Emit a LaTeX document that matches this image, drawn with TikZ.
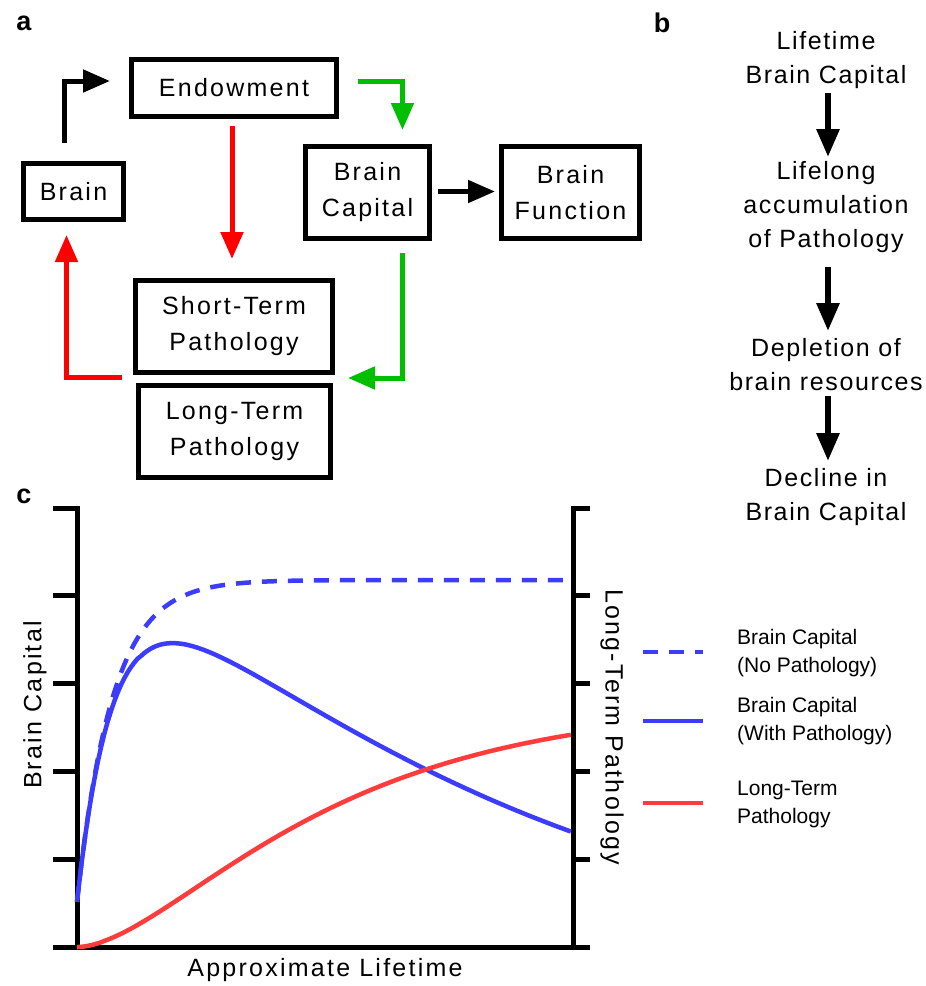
\documentclass[tikz,border=0pt]{standalone}
\usepackage{fontspec}
\setmainfont{Liberation Sans}
\newfontfamily\trackfont{Liberation Sans}[LetterSpace=9]
\newfontfamily\flowfont{Liberation Sans}[LetterSpace=6.5]
\usetikzlibrary{arrows.meta,calc}
\definecolor{arrred}{RGB}{255,0,0}
\definecolor{arrgreen}{RGB}{0,190,0}
\definecolor{plotblue}{RGB}{60,60,255}
\definecolor{plotred}{RGB}{255,60,60}
\tikzset{
  box/.style={draw, line width=5pt, align=center, inner sep=0pt, font=\trackfont\fontsize{25}{36}\selectfont},
  conn/.style={line width=5pt, -{Triangle[length=27pt,width=22pt]}},
  flow/.style={line width=6pt, -{Triangle[length=28pt,width=22pt]}},
  ptext/.style={align=center, inner sep=0pt, font=\flowfont\fontsize{25}{34}\selectfont},
  legtext/.style={align=left, anchor=west, inner sep=0pt, font=\fontsize{21}{28}\selectfont},
  axislab/.style={inner sep=0pt, font=\trackfont\fontsize{25}{30}\selectfont},
  axisline/.style={line width=5pt},
  curve/.style={line width=4.5pt},
  panel/.style={inner sep=0pt, font=\bfseries\fontsize{27}{30}\selectfont}
}
\begin{document}
\begin{tikzpicture}[x=1pt,y=-1pt,line join=miter]
\useasboundingbox (0,0) rectangle (926,986);
% panel labels
\node[panel] (la) at (24,23) {a};
\node[panel] (lb) at (662,23) {b};
\node[panel] (lc) at (24,496) {c};
% panel a boxes
\node[box, minimum width=205pt, minimum height=57pt] (endow) at (234,88) {Endowment};
\node[box, minimum width=100pt, minimum height=56pt] (brain) at (73.5,191.5) {Brain};
\node[box, minimum width=124pt, minimum height=92pt] (bc) at (367.5,192.5) {Brain\\Capital};
\node[box, minimum width=138pt, minimum height=92pt] (bf) at (570.5,192.5) {Brain\\Function};
\node[box, minimum width=197pt, minimum height=92pt] (st) at (234,326.5) {Short-Term\\Pathology};
\node[box, minimum width=192pt, minimum height=92pt] (lt) at (234.5,431.5) {Long-Term\\Pathology};
% panel a connectors
\draw[conn] ($(brain.north)+(-9.5,-18)$) |- ($(endow.west)+(-19,-7)$);
\draw[conn, arrred] ($(endow.south)+(-2,7)$) -- ($(st.north)+(-2,-19)$);
\draw[conn, arrred] ($(st.south west)+(-11,2)$) -| ($(brain.south)+(-7,13)$);
\draw[conn, arrgreen] ($(endow.east)+(19,-7)$) -| ($(bc.north)+(35,-14)$);
\draw[conn, arrgreen] ($(bc.south)+(35,12)$) |- ($(st.east)+(13,51.5)$);
\draw[conn] ($(bc.east)+(6,-1)$) -- ($(bf.west)+(-4,-1)$);
% panel b
\node[ptext] (b1) at (826,60) {Lifetime\\Brain Capital};
\node[ptext] (b2) at (826,207) {Lifelong\\accumulation\\of Pathology};
\node[ptext] (b3) at (826,365) {Depletion of\\brain resources};
\node[ptext] (b4) at (826,497) {Decline in\\Brain Capital};
\draw[flow] ($(b1.center)+(2,33)$) -- ($(b2.center)+(2,-50)$);
\draw[flow] ($(b2.center)+(2,60)$) -- ($(b3.center)+(2,-34)$);
\draw[flow] ($(b3.center)+(2,31)$) -- ($(b4.center)+(2,-36)$);
% panel c axes
\draw[axisline] (53,508) -- (77,508) -- (77,947);
\draw[axisline] (53,947) -- (590,947);
\draw[axisline] (590,508) -- (573,508) -- (573,947);
\foreach \yy in {595,683,771,859} {
  \draw[axisline] (53,\yy) -- (77,\yy);
  \draw[axisline] (573,\yy) -- (590,\yy);
}
% curves
\draw[curve, plotblue, dash pattern=on 15pt off 11pt] (77,902) -- plot[domain=0.002:1, samples=150] ({77+495*\x},{947-(367-322*exp(-14*\x))});
\draw[curve, plotblue] (77,902) -- plot[domain=0.002:1, samples=150] ({77+495*\x},{947-(367-322*exp(-14*\x))*exp(-1.16*exp(1.34*ln(\x)))});
\draw[curve, plotred] (77,947) -- plot[domain=0.002:1, samples=150] ({77+495*\x},{947-245*exp(1.85*ln(1-exp(-2.6*\x)))});
% axis labels
\node[axislab, rotate=90] (ylab) at (35,705) {Brain Capital};
\node[axislab, rotate=-90] (y2lab) at (612,727) {Long-Term Pathology};
\node[axislab] (xlab) at (325,970) {Approximate Lifetime};
% legend
\coordinate (l1a) at (643,652); \coordinate (l1b) at (703,652);
\coordinate (l2a) at (643,721); \coordinate (l2b) at (703,721);
\coordinate (l3a) at (643,803); \coordinate (l3b) at (703,803);
\draw[curve, plotblue, dash pattern=on 15pt off 11pt] (l1a) -- (l1b);
\draw[curve, plotblue] (l2a) -- (l2b);
\draw[curve, plotred] (l3a) -- (l3b);
\node[legtext] (t1) at (737,653) {Brain Capital\\(No Pathology)};
\node[legtext] (t2) at (737,721.5) {Brain Capital\\(With Pathology)};
\node[legtext] (t3) at (737,804) {Long-Term\\Pathology};
\end{tikzpicture}
\end{document}
